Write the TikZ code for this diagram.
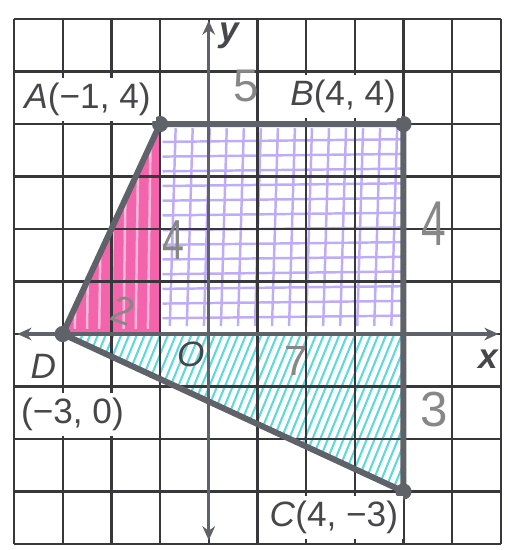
\documentclass[tikz,border=0pt]{standalone}
\usepackage{fontspec}
\setmainfont{Liberation Sans}
\usetikzlibrary{arrows.meta}
\definecolor{gridgray}{RGB}{55,55,60}
\definecolor{edgegray}{RGB}{95,98,104}
\definecolor{labelgray}{RGB}{70,70,75}
\definecolor{handgray}{RGB}{135,135,135}
\definecolor{pinkfill}{RGB}{244,100,172}
\definecolor{lavline}{RGB}{190,172,248}
\definecolor{cyanline}{RGB}{95,218,220}
\begin{document}
\begin{tikzpicture}[x=0.486cm, y=0.524cm,
	font=\fontsize{10}{12}\selectfont,
	gridline/.style={draw=gridgray, line width=0.65pt},
	axis/.style={draw=edgegray, line width=0.95pt, {Stealth[length=4pt,width=3.6pt]}-{Stealth[length=4pt,width=3.6pt]}},
	side/.style={draw=edgegray, line width=1.7pt, line join=round},
	vertex/.style={circle, fill=edgegray, inner sep=0pt, minimum size=4.6pt},
	lbl/.style={text=labelgray, inner sep=1pt},
	ptlbl/.style={lbl, fill=white, inner sep=1.5pt},
	hand/.style={text=handgray, inner sep=0pt}
]
	\useasboundingbox (-4.288,-4.115) rectangle (6.144,6.363);
	\coordinate (A) at (-1,4);
	\coordinate (B) at (4,4);
	\coordinate (C) at (4,-3);
	\coordinate (D) at (-3,0);
	\coordinate (F) at (-1,0);
	\coordinate (E) at (4,0);
	% shading done by hand
	\begin{scope}
		\clip (D) -- (A) -- (F) -- cycle;
		\fill[pinkfill] (D) -- (A) -- (F) -- cycle;
		\foreach \x in {-2.75,-2.5,...,-1.1}
			\draw[white!55!pinkfill, line width=0.7pt] (\x,0.1) -- (\x+0.06,4);
	\end{scope}
	\begin{scope}
		\clip (-0.95,0.15) rectangle (3.95,3.92);
		\foreach \y in {0.3,0.58,...,3.9}
			\draw[lavline, line width=0.7pt] (-0.95,\y) -- (3.95,\y+0.05);
		\foreach \x in {-0.8,-0.45,...,3.9}
			\draw[lavline, line width=0.7pt] (\x,0.15) -- (\x+0.12,3.92);
	\end{scope}
	\begin{scope}
		\clip (D) -- (E) -- (C) -- cycle;
		\foreach \x in {-4.8,-4.64,...,4.2}
			\draw[cyanline, line width=0.6pt] (\x,-3.2) -- ++(1.5,3.4);
	\end{scope}
	\foreach \i in {-4,...,6} {
		\draw[gridline] (\i,-4) -- (\i,6);
		\draw[gridline] (-4,\i) -- (6,\i);
	}
	\coordinate (xl) at (-3.93,0);
	\coordinate (xr) at (5.95,0);
	\coordinate (yb) at (0,-3.93);
	\coordinate (yt) at (0,5.97);
	\draw[axis] (xl) -- (xr);
	\draw[axis] (yb) -- (yt);
	\draw[side] (A) -- (B) -- (C) -- (D) -- cycle;
	\node[vertex] (dA) at (A) {};
	\node[vertex] (dB) at (B) {};
	\node[vertex] (dC) at (C) {};
	\node[vertex] (dD) at (D) {};
	\node[ptlbl] (labA) at (-2.49,4.47) {\textit{A}(−1, 4)};
	\node[ptlbl] (labB) at (2.76,4.52) {\textit{B}(4, 4)};
	\node[ptlbl] (labC) at (2.57,-3.5) {\textit{C}(4, −3)};
	\node[ptlbl] (labD) at (-3.4,-0.62) {\textit{D}};
	\node[ptlbl] (labDc) at (-2.8,-1.53) {(−3, 0)};
	\node[lbl] (labO) at (-0.37,-0.38) {\textit{O}};
	\node[lbl] (labx) at (5.74,-0.48) {\bfseries\itshape x};
	\node[lbl] (laby) at (0.42,5.68) {\bfseries\itshape y};
	\node[hand, font=\fontsize{13}{13}\selectfont] (top) at (0.76,4.72) {5};
	\node[hand, font=\fontsize{18}{18}\selectfont, xscale=0.7] (right) at (4.62,2.1) {4};
	\node[hand, font=\fontsize{16}{16}\selectfont, xscale=0.7] (left) at (-0.72,1.78) {4};
	\node[hand, font=\fontsize{11}{11}\selectfont, rotate=-20] (low) at (-1.75,0.44) {2};
	\node[hand, font=\fontsize{12}{12}\selectfont] (mid) at (1.8,-0.52) {7};
	\node[hand, font=\fontsize{14}{14}\selectfont] (down) at (4.63,-1.43) {3};
\end{tikzpicture}
\end{document}
